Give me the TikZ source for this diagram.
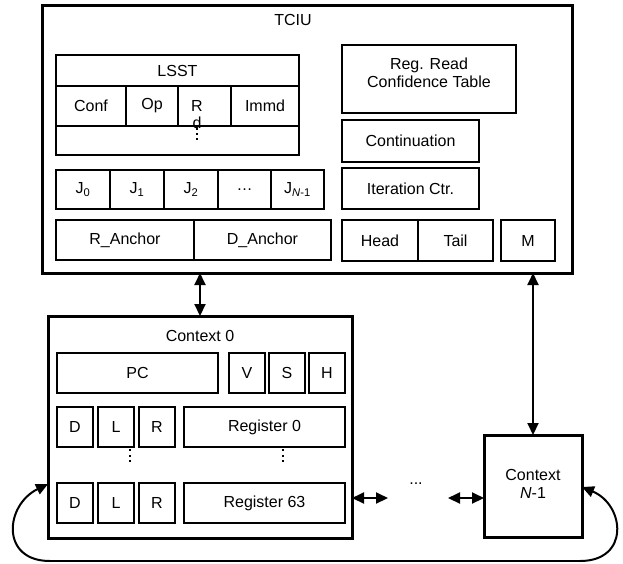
\documentclass[tikz,border=0pt]{standalone}
\usepackage{fontspec}
\setmainfont{Liberation Sans}
\usetikzlibrary{arrows.meta}

% box from corner (x1,y1) to corner (x2,y2), y growing downwards
\newcommand\boxat[7][]{%
  \node[cellbox,#1,minimum width={(#5-#3)*1pt},minimum height={(#6-#4)*1pt}]
    (#2) at ({(#3+#5)/2},{(#4+#6)/2}) {#7};}

\begin{document}
\begin{tikzpicture}[x=1pt,y=-1pt,
  every node/.style={font=\fontsize{16}{18}\selectfont},
  cellbox/.style={draw,line width=2.1pt,inner sep=0pt,outer sep=0pt},
  thinbox/.style={draw,line width=1.6pt,inner sep=0pt,outer sep=0pt},
  outerbox/.style={draw,line width=3pt,inner sep=0pt,outer sep=0pt},
  label text/.style={inner sep=0pt,align=center},
  arr/.style={line width=2pt,-{Triangle[length=12pt,width=11pt]}},
  dblarr/.style={line width=2pt,{Triangle[length=12pt,width=11pt]}-{Triangle[length=12pt,width=11pt]}},
  dot/.style={fill,inner sep=0pt,minimum size=2.4pt,rectangle}]
\useasboundingbox (0,0) rectangle (623,563);

% ---------------- TCIU ----------------
\boxat[outerbox]{tciu}{42}{5}{572}{273}{}
\node[label text] (tciutitle) at (293,20) {TCIU};

% LSST table
\boxat[thinbox]{lsst}{56}{55}{299}{86}{LSST}
\boxat[thinbox]{conf}{56}{86}{126}{126}{Conf}
\boxat[thinbox]{op}{126}{86}{178}{126}{Op}
\boxat[thinbox]{rd}{178}{86}{231}{126}{}
\boxat[thinbox]{immd}{231}{86}{299}{126}{Immd}
\boxat[thinbox]{lsstrest}{56}{126}{299}{155}{}
\draw[line width=2.6pt] (lsst.north west) rectangle (lsstrest.south east);
\node[label text,text height=11pt] (rdtext) at (197,123) {R\\[-1pt]d};
\node[dot] (rdd1) at (197,129) {};
\node[dot] (rdd2) at (197,134) {};
\node[dot] (rdd3) at (197,139) {};

% J registers
\boxat{j0}{56}{170}{110}{209}{J\textsubscript{0}}
\boxat{j1}{110}{170}{164}{209}{J\textsubscript{1}}
\boxat{j2}{164}{170}{218}{209}{J\textsubscript{2}}
\boxat{jdots}{218}{170}{271}{209}{\dots}
\boxat{jn}{271}{170}{324}{209}{J\textsubscript{\textit{N}-1}}

% anchors
\boxat{ranchor}{56}{220}{194}{260}{R\_Anchor}
\boxat{danchor}{194}{220}{331}{260}{D\_Anchor}

% right column
\boxat{rrct}{342}{45}{516}{113}{}
\node[label text] (rrcttext) at (429,73) {Reg. Read\\Confidence Table};
\boxat{cont}{342}{120}{479}{162}{Continuation}
\boxat{iter}{342}{168}{479}{209}{Iteration Ctr.}
\boxat{head}{342}{220}{418}{261}{Head}
\boxat{tail}{418}{220}{493}{261}{Tail}
\boxat{mbox}{501}{220}{555}{261}{M}

% ---------------- Context 0 ----------------
\boxat[outerbox]{ctx0}{48}{316}{352}{538}{}
\node[label text] (ctx0title) at (200,336) {Context 0};
\boxat{pc}{57}{353}{218}{393}{PC}
\boxat{vb}{229}{353}{265}{393}{V}
\boxat{sb}{269}{353}{305}{393}{S}
\boxat{hb}{309}{353}{345}{393}{H}

\boxat{da}{57}{407}{93}{447}{D}
\boxat{la}{98}{407}{134}{447}{L}
\boxat{ra}{139}{407}{175}{447}{R}
\boxat{reg0}{184}{407}{345}{447}{Register 0}

\boxat{db}{57}{483}{93}{523}{D}
\boxat{lb}{98}{483}{134}{523}{L}
\boxat{rb}{139}{483}{175}{523}{R}
\boxat{reg63}{184}{483}{345}{523}{Register 63}

\foreach \yy [count=\k] in {450,456,461} {
  \node[dot] (lda\k) at (130,\yy) {};
  \node[dot] (rga\k) at (283,\yy) {};
}

% ---------------- Context N-1 ----------------
\boxat[outerbox]{ctxn}{484}{435}{582}{537}{}
\node[label text] (ctxntext) at (533,484) {Context\\\textit{N}-1};

% ---------------- connections ----------------
\draw[dblarr] (tciu.south -| ctx0title) -- (ctx0.north -| ctx0title);
\draw[dblarr] (tciu.south -| ctxntext) -- (ctxn.north -| ctxntext);

\coordinate (ml) at (388,498);
\coordinate (mr) at (448,498);
\draw[dblarr] (ctx0.east |- ml) -- (ml);
\draw[dblarr] (mr) -- (ctxn.west |- mr);
\node[label text] (middots) at (416,484) {...};

% loop back along the bottom
\coordinate (bl) at (50,561);
\coordinate (br) at (580,561);
\draw[line width=1.5pt] (bl) -- (br);
\draw[arr] (bl) .. controls (0,561) and (5,505) .. (ctx0.west |- 0,484);
\draw[arr] (br) .. controls (630,561) and (625,505) .. (ctxn.east |- 0,487);
\end{tikzpicture}
\end{document}
